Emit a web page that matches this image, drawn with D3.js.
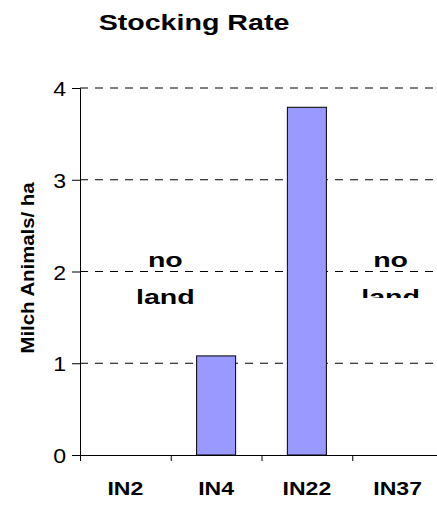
<!DOCTYPE html>
<html>
<head>
<meta charset="utf-8">
<script src="https://d3js.org/d3.v7.min.js"></script>
<style>
  body { margin: 0; background: #fff; }
  text { font-family: Arial, "Liberation Sans", sans-serif; fill: #000; }
</style>
</head>
<body>
<svg id="chart" width="437" height="505"></svg>
<script>
// Data
const categories = ["IN2", "IN4", "IN22", "IN37"];
const rates = [null, 1.08, 3.79, null];
const yTicks = [0, 1, 2, 3, 4];
const noteCats = ["IN2", "IN37"];
const noteLines = ["no", "land"];

// Sizing
const svgWidth = 437;
const svgHeight = 505;
const margin = {top: 88, left: 80, bottom: 50};
const plotBottom = svgHeight - margin.bottom;
const plotRight = 443;

const svg = d3.select("svg#chart");

// stretch text horizontally (the source picture is stretched)
function stretch(sel, k) {
  sel.each(function() {
    const w = this.getComputedTextLength();
    d3.select(this)
      .attr("textLength", w * k)
      .attr("lengthAdjust", "spacingAndGlyphs");
  });
}

// Scales
const xBand = d3.scaleBand()
  .domain(categories)
  .range([margin.left, plotRight])
  .padding(0);

const xEdge = d3.scaleLinear()
  .domain([0, categories.length])
  .range([margin.left, plotRight]);

const yScale = d3.scaleLinear()
  .domain([0, 4])
  .range([plotBottom, margin.top]);

const barWidth = xBand.bandwidth() * 0.43;

// Gridlines
svg.append("g")
  .selectAll("line.grid")
  .data(yTicks.filter(d => d > 0))
  .enter()
  .append("line")
  .attr("class", "grid")
  .attr("x1", margin.left)
  .attr("x2", svgWidth)
  .attr("y1", d => yScale(d))
  .attr("y2", d => yScale(d))
  .attr("stroke", "#000")
  .attr("stroke-width", 1)
  .attr("stroke-dasharray", "8,7");

// Bars
svg.append("g")
  .selectAll("rect.bar")
  .data(categories.map((c, i) => ({cat: c, v: rates[i]})).filter(d => d.v != null))
  .enter()
  .append("rect")
  .attr("class", "bar")
  .attr("x", d => xBand(d.cat) + (xBand.bandwidth() - barWidth) / 2)
  .attr("y", d => yScale(d.v))
  .attr("width", barWidth)
  .attr("height", d => yScale(0) - yScale(d.v))
  .style("fill", "#9999ff")
  .style("stroke", "#000")
  .style("stroke-width", "1px");

// Y axis
const yAxisG = svg.append("g")
  .attr("transform", "translate(" + margin.left + ",0)")
  .call(d3.axisLeft(yScale).tickValues(yTicks).tickFormat(d3.format("d")).tickSize(8).tickPadding(6));
yAxisG.select(".domain").attr("stroke", "#000").attr("stroke-width", 1);
yAxisG.selectAll(".tick line").attr("stroke", "#000");
yAxisG.selectAll("text")
  .style("font-size", "21px")
  .attr("fill", "#000")
  .attr("dy", "0.36em")
  .call(stretch, 1.1);

// X axis: boundary ticks
const xAxisG = svg.append("g")
  .attr("transform", "translate(0," + plotBottom + ")")
  .call(d3.axisBottom(xEdge).tickValues(d3.range(0, categories.length + 1)).tickFormat("").tickSizeOuter(0).tickSize(6));
xAxisG.select(".domain").attr("stroke", "#000").attr("stroke-width", 1);
xAxisG.selectAll(".tick line").attr("stroke", "#000");

// X axis: category labels
const xLabG = svg.append("g")
  .attr("transform", "translate(0," + plotBottom + ")")
  .call(d3.axisBottom(xBand).tickSize(0).tickPadding(27));
xLabG.select(".domain").remove();
xLabG.selectAll("text")
  .style("font-size", "18px")
  .style("font-weight", "bold")
  .attr("fill", "#000")
  .call(stretch, 1.28);

// Title
svg.append("text")
  .attr("x", 194)
  .attr("y", 30)
  .attr("text-anchor", "middle")
  .style("font-size", "22px")
  .style("font-weight", "bold")
  .text("Stocking Rate")
  .call(stretch, 1.3);

// Y label
svg.append("text")
  .attr("transform", "translate(34," + 268 + ") rotate(-90)")
  .attr("text-anchor", "middle")
  .style("font-size", "19px")
  .style("font-weight", "bold")
  .text("Milch Animals/ ha")
  .call(stretch, 1.07);

// "no land" notes
svg.append("clipPath")
  .attr("id", "noteClip")
  .append("rect")
  .attr("x", 0).attr("y", 0)
  .attr("width", svgWidth).attr("height", 298);

const noteOffset = {IN2: 40, IN37: -7};
noteCats.forEach(c => {
  const cx = xBand(c) + xBand.bandwidth() / 2 + noteOffset[c];
  const g = svg.append("g");
  if (c === "IN37") g.attr("clip-path", "url(#noteClip)");
  g.selectAll("text")
    .data(noteLines)
    .enter()
    .append("text")
    .attr("x", cx)
    .attr("y", (d, i) => 267 + i * 37)
    .attr("text-anchor", "middle")
    .style("font-size", "21px")
    .style("font-weight", "bold")
    .text(d => d)
    .call(stretch, 1.36);
});
</script>
</body>
</html>
